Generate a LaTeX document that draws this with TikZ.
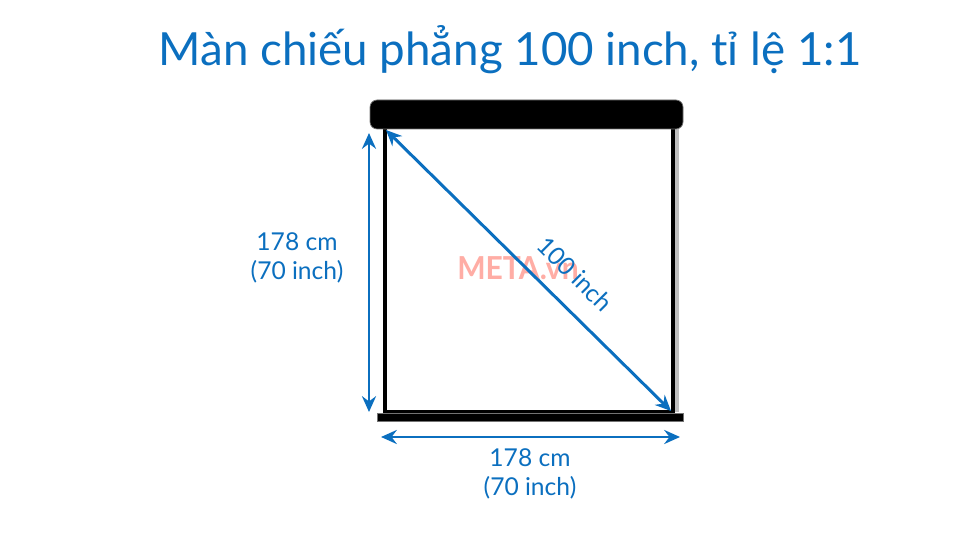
\documentclass[tikz,border=0pt]{standalone}
\usepackage{fontspec}
\setmainfont{Lato}
\usetikzlibrary{arrows.meta}
\definecolor{metablue}{HTML}{0B6FBF}
\definecolor{metared}{HTML}{FFADA5}

\begin{document}
\begin{tikzpicture}[x=0.02cm,y=-0.02cm,
    dim/.style={metablue, line width=1.7pt, {Stealth[length=9pt,width=8pt,inset=3pt]}-{Stealth[length=9pt,width=8pt,inset=3pt]}},
    lbl/.style={metablue, font=\fontsize{14}{16.5}\selectfont, align=center}]
    \useasboundingbox (0,0) rectangle (960,540);
    % title
    \node[metablue, font=\fontsize{26}{32}\selectfont] (title) at (510,50) {Màn chiếu phẳng 100 inch, tỉ lệ 1:1};
    % screen
    \fill[black!25] (675,129) rectangle (679,412);
    \draw[black, line width=1.8pt, fill=white] (385,127) rectangle (673,412);
    \fill[black, draw=black!55, line width=0.4pt, rounded corners=4] (370,100) rectangle (683,129);
    \fill[black, draw=black!55, line width=0.4pt] (377,413) rectangle (683,421);
    % watermark
    \node[metared, font=\bfseries\fontsize{18}{20}\selectfont, xscale=0.95] (mark) at (518,268) {META.vn};
    % dimensions
    \coordinate (tl) at (386,130);
    \coordinate (br) at (671,411);
    \coordinate (vt) at (369,133);
    \coordinate (vb) at (369,412);
    \coordinate (hl) at (381,437);
    \coordinate (hr) at (680,437);
    \draw[dim] (tl) -- (br);
    \draw[dim] (vt) -- (vb);
    \draw[dim] (hl) -- (hr);
    \node[lbl, rotate=-45] (diag) at (575,274) {100 inch};
    \node[lbl] (hgt) at (297,258) {178 cm\\(70 inch)};
    \node[lbl] (wdt) at (530,474) {178 cm\\(70 inch)};
\end{tikzpicture}
\end{document}
